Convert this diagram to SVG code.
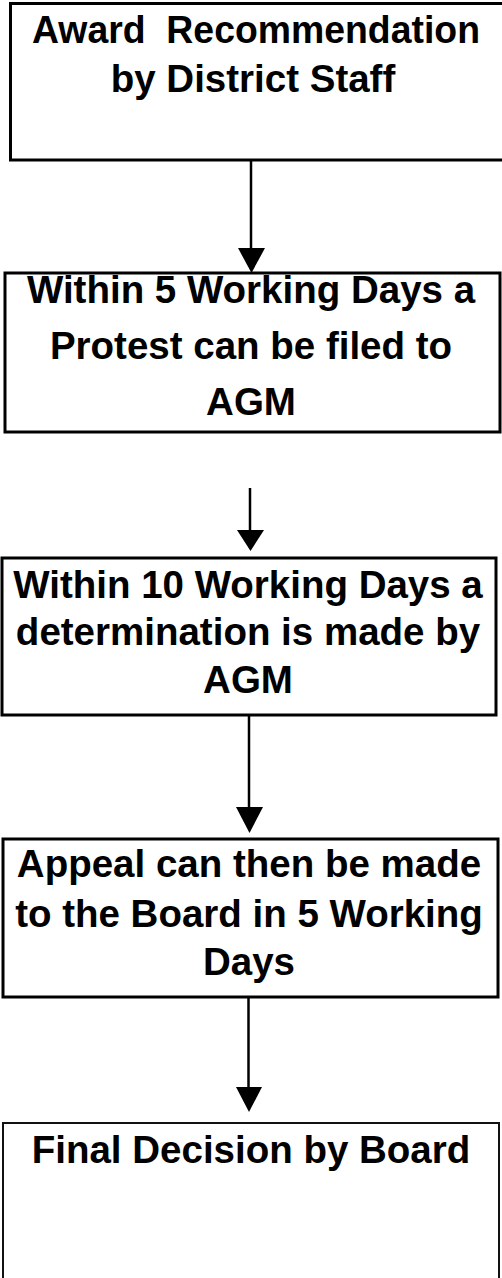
<svg xmlns="http://www.w3.org/2000/svg" width="502" height="1278" viewBox="0 0 502 1278">
<defs>
<style>
.box{fill:#fff;stroke:#000;stroke-width:3}
.thin{fill:#fff;stroke:#111;stroke-width:2}
.t{font-family:"Liberation Sans",Arial,sans-serif;font-weight:bold;font-size:38.5px;fill:#000;text-anchor:middle}
.c{stroke:#000;stroke-width:2.5;fill:none}
.h{fill:#000}
</style>
</defs>
<rect width="502" height="1278" fill="#fff"/>
<g id="n1">
<path class="box" d="M504,3.5 H10.5 V160 H504"/>
<text class="t" x="256" y="43" xml:space="preserve" textLength="448" lengthAdjust="spacingAndGlyphs">Award  Recommendation</text>
<text class="t" x="253" y="92">by District Staff</text>
</g>
<g id="n2">
<rect class="box" x="5" y="273" width="495" height="159"/>
<text class="t" x="251" y="303">Within 5 Working Days a</text>
<text class="t" x="251" y="359">Protest can be filed to</text>
<text class="t" x="251" y="415">AGM</text>
</g>
<g id="n3">
<rect class="box" x="2" y="558" width="494" height="157"/>
<text class="t" x="248" y="598" font-size="38">Within 10 Working Days a</text>
<text class="t" x="248" y="645">determination is made by</text>
<text class="t" x="248" y="693">AGM</text>
</g>
<g id="n4">
<rect class="box" x="3" y="839" width="495" height="158"/>
<text class="t" x="249" y="877">Appeal can then be made</text>
<text class="t" x="249" y="927">to the Board in 5 Working</text>
<text class="t" x="249" y="975">Days</text>
</g>
<g id="n5">
<rect class="thin" x="3" y="1123" width="496" height="170"/>
<text class="t" x="251" y="1163" font-size="38">Final Decision by Board</text>
</g>
<g id="connectors">
<line class="c" x1="251" y1="160" x2="251" y2="250"/>
<polygon class="h" points="238,248 265,248 251.5,273"/>
<line class="c" x1="250" y1="488" x2="250" y2="532"/>
<polygon class="h" points="237,530 264,530 250.5,551"/>
<line class="c" x1="249" y1="715" x2="249" y2="809"/>
<polygon class="h" points="236,807 263,807 249.5,833"/>
<line class="c" x1="248.5" y1="997" x2="248.5" y2="1089"/>
<polygon class="h" points="236,1087 262,1087 249,1112"/>
</g>
</svg>
